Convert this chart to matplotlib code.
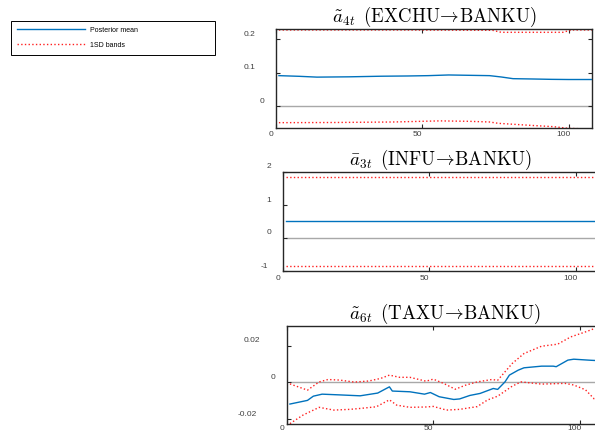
import numpy as np
import matplotlib
matplotlib.use("Agg")
import matplotlib.pyplot as plt
import matplotlib.transforms as mtransforms
from matplotlib.lines import Line2D

plt.rcParams['mathtext.fontset'] = 'cm'

# --- data ---
# panel 1: a4t (EXCHU -> BANKU)
top_t_mean = [1, 8, 14, 25, 36, 45, 52, 59, 66, 73, 77, 81, 88, 94, 100, 108]
top_mean = [0.091, 0.089, 0.0866, 0.0875, 0.0893, 0.090, 0.091, 0.093, 0.092, 0.091,
            0.087, 0.082, 0.081, 0.080, 0.0795, 0.0795]
top_t_up = [1, 40, 74, 77, 98, 101, 108]
top_up = [0.227, 0.227, 0.226, 0.220, 0.220, 0.227, 0.227]
top_t_lo = [1, 20, 40, 56, 66, 73, 76, 87, 95, 100, 108]
top_lo = [-0.049, -0.0485, -0.047, -0.0437, -0.045, -0.047, -0.051, -0.057, -0.061,
          -0.066, -0.068]

# panel 2: a3t (INFU -> BANKU), constant over time
mid_t = [1, 108]
mid_mean = [0.506, 0.506]
mid_up = [1.86, 1.86]
mid_lo = [-0.84, -0.84]

# panel 3: a6t (TAXU -> BANKU)
bot_t_mean = [1, 7, 9, 12, 18, 25, 31, 35, 36, 42, 47, 49, 52, 57, 59, 62.5, 66, 69,
              70.5, 72, 74.5, 76, 79, 81, 87, 91, 92, 96, 98, 104, 108]
bot_mean = [-0.0118, -0.0098, -0.0075, -0.0064, -0.0068, -0.0073, -0.0058, -0.0024,
            -0.0047, -0.0051, -0.0064, -0.0055, -0.0078, -0.0093, -0.0090, -0.0071,
            -0.0060, -0.0042, -0.0033, -0.0038, 0.0003, 0.0040, 0.0067, 0.0080, 0.0089,
            0.0089, 0.0086, 0.0122, 0.0127, 0.0121, 0.0118]
bot_t_up = [1, 7, 11, 14, 18, 23, 28, 32, 35, 38.5, 42, 47.5, 50, 53.5, 57.5, 61, 65,
            70, 72, 74.5, 77, 81, 87, 92.5, 97, 102, 105, 108]
bot_up = [-0.0008, -0.0042, 0.0003, 0.0016, 0.0013, 0.0002, 0.0008, 0.0022, 0.0040,
          0.0028, 0.0028, 0.0007, 0.0018, -0.0005, -0.0037, -0.0015, 0.0003, 0.0016,
          0.0012, 0.0058, 0.0104, 0.0158, 0.0198, 0.0209, 0.0249, 0.0276, 0.0294, 0.0305]
bot_t_lo = [1, 5.5, 11, 16, 21.5, 25, 30.5, 35, 37.5, 42, 47.5, 50, 54.5, 59, 65, 68.5,
            72, 75, 77, 80, 87, 95, 98, 102, 105, 108]
bot_lo = [-0.0225, -0.0178, -0.0136, -0.0151, -0.0147, -0.0142, -0.0133, -0.0095,
          -0.0124, -0.0136, -0.0134, -0.0131, -0.0151, -0.0147, -0.0132, -0.0096,
          -0.0075, -0.0042, -0.0020, 0.0003, -0.0009, -0.0005, -0.0014, -0.0040,
          -0.0090, -0.0100]

titles = [r'$\tilde{a}_{4t}\ \,\mathrm{(EXCHU\!\rightarrow\!BANKU)}$',
          r'$\bar{a}_{3t}\ \,\mathrm{(INFU\!\rightarrow\!BANKU)}$',
          r'$\tilde{a}_{6t}\ \,\mathrm{(TAXU\!\rightarrow\!BANKU)}$']
xticks = [0, 50, 100]
yticks = [[0, 0.1, 0.2], [-1, 0, 1, 2], [-0.02, 0, 0.02]]
yticklabels = [['0', '0.1', '0.2'], ['-1', '0', '1', '2'], ['-0.02', '0', '0.02']]
ylims = [(-0.064, 0.229), (-1, 2), (-0.0227, 0.031)]

BLUE = '#0072BD'
RED = '#FF2020'
GRAY = '#A8A8A8'
DARK = '#262626'
TICKC = '#404040'

W, H = 595, 432
fig = plt.figure(figsize=(W / 100, H / 100), dpi=100)

# axes boxes in pixels: left, top, bottom
boxes = [(276, 29.3, 127.7), (283, 172, 271), (287, 325.7, 424)]
axw = 316
axes = []
for (l, tp, bt) in boxes:
    ax = fig.add_axes([l / W, 1 - bt / H, axw / W, (bt - tp) / H])
    axes.append(ax)

series = [
    (top_t_mean, top_mean, top_t_up, top_up, top_t_lo, top_lo),
    (mid_t, mid_mean, mid_t, mid_up, mid_t, mid_lo),
    (bot_t_mean, bot_mean, bot_t_up, bot_up, bot_t_lo, bot_lo),
]

labels_to_fix = []
for i, ax in enumerate(axes):
    tm, m, tu, u, tl, lo = series[i]
    ax.plot([tm[0], tm[-1]], [0, 0], color=GRAY, lw=1.0, zorder=1)
    ax.plot(tu, u, ':', color=RED, lw=1.0, zorder=2)
    ax.plot(tl, lo, ':', color=RED, lw=1.0, zorder=2)
    ax.plot(tm, m, '-', color=BLUE, lw=1.0, zorder=3)
    ax.set_xlim(0, 108)
    ax.set_ylim(*ylims[i])
    ax.set_xticks(xticks)
    ax.set_yticks(yticks[i])
    ax.tick_params(direction='in', length=3, width=0.8, color=DARK,
                   top=True, right=True, labelleft=False, labelbottom=False)
    for sp in ax.spines.values():
        sp.set_color(DARK)
        sp.set_linewidth(1.0)
    ax.set_title(titles[i], fontsize=13.5, pad=1.5)

    # tick labels drawn by hand (they sit offset from the ticks in the original)
    ytr = mtransforms.blended_transform_factory(ax.transAxes, ax.transData)
    for v, s in zip(yticks[i], yticklabels[i]):
        txt = ax.text(0, v, s, ha='right', va='center', fontsize=6,
                      family='Liberation Sans', color=TICKC, clip_on=False)
        labels_to_fix.append((txt, ytr))
    xtr = mtransforms.blended_transform_factory(ax.transData, ax.transAxes)
    dy = -7 if i < 2 else -5
    for v in xticks:
        ax.text(v, 0, str(v), ha='center', va='center', fontsize=6,
                family='Liberation Sans', color=TICKC, clip_on=False,
                transform=xtr + mtransforms.Affine2D().translate(-5, dy))

fig.canvas.draw()
renderer = fig.canvas.get_renderer()
for txt, tr in labels_to_fix:
    w = txt.get_window_extent(renderer).width
    txt.set_transform(tr + mtransforms.Affine2D().translate(-5.5 - 1.3 * w, 5))

handles = [Line2D([], [], color=BLUE, lw=1.0),
           Line2D([], [], color=RED, lw=1.0, ls=':')]
leg = fig.legend(handles, ['Posterior mean', '1SD bands'],
                 loc='upper left',
                 bbox_to_anchor=(11 / W, 1 - 56.7 / H, 204 / W, 36 / H),
                 mode='expand', prop={'family': 'Liberation Sans', 'size': 5},
                 fancybox=False, framealpha=1, edgecolor='black',
                 borderpad=0.87, borderaxespad=0, handlelength=9.8,
                 handletextpad=0.7, labelspacing=1.15)
leg.get_frame().set_linewidth(0.7)

fig.savefig('out.png', dpi=100)
